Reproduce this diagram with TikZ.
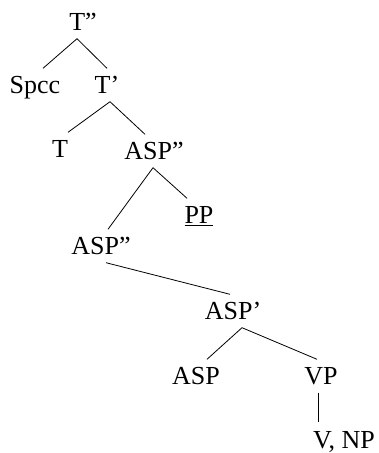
\documentclass[tikz,border=0pt]{standalone}
\usepackage{fontspec}
\setmainfont{Liberation Serif}
\tikzset{
  lbl/.style={inner xsep=0.75pt, inner ysep=8pt, text height=17pt, text depth=0pt, font=\fontsize{26}{30}\selectfont},
  leaf/.style={lbl, inner ysep=1pt, text height=25pt, anchor=base},
  branch/.style={line width=0.8pt}
}
\begin{document}
\begin{tikzpicture}[x=1pt,y=1pt,yscale=-1,xscale=1]
            \useasboundingbox (0,0) rectangle (379,453);

            % Text Node
            \node[lbl] (Tpp) at (83,22) {T”};
            % Text Node
            \node[lbl] (Spcc) at (35,85) {Spcc};
            % Text Node
            \node[lbl] (Tp) at (107,85) {T’};
            % Text Node
            \node[lbl] (T) at (60,149) {T};
            % Text Node
            \node[lbl] (ASPpp1) at (154,151) {ASP”};
            % Text Node
            \node[lbl] (PP) at (199,215) {\underline{PP}};
            % Text Node
            \node[lbl] (ASPpp2) at (101,246) {ASP”};
            % Text Node
            \node[lbl] (ASPp) at (233,311) {ASP’};
            % Text Node
            \node[lbl] (ASP) at (196,376) {ASP};
            % Text Node
            \node[lbl] (VP) at (321,376) {VP};
            % Text Node
            \node[leaf] (VNP) at (344,448.5) {V, NP};

            % Branches
            \draw[branch] ([xshift=-6pt]Tpp.south) -- ([xshift=8pt]Spcc.north);
            \draw[branch] ([xshift=-6pt]Tpp.south) -- (Tp.north);
            \draw[branch] ([xshift=3pt]Tp.south) -- ([xshift=8pt]T.north);
            \draw[branch] ([xshift=3pt]Tp.south) -- ([xshift=-9pt]ASPpp1.north);
            \draw[branch] ([xshift=-1pt]ASPpp1.south) -- ([xshift=7pt]ASPpp2.north);
            \draw[branch] ([xshift=-1pt]ASPpp1.south) -- ([xshift=-12pt]PP.north);
            \draw[branch] ([xshift=5pt]ASPpp2.south) -- ([xshift=-3pt]ASPp.north);
            \draw[branch] ([xshift=9pt]ASPp.south) -- ([xshift=11pt]ASP.north);
            \draw[branch] ([xshift=9pt]ASPp.south) -- ([xshift=-4pt]VP.north);
            \draw[branch] ([xshift=-3pt]VP.south) -- ([xshift=-26pt]VNP.north);

        \end{tikzpicture}
\end{document}
